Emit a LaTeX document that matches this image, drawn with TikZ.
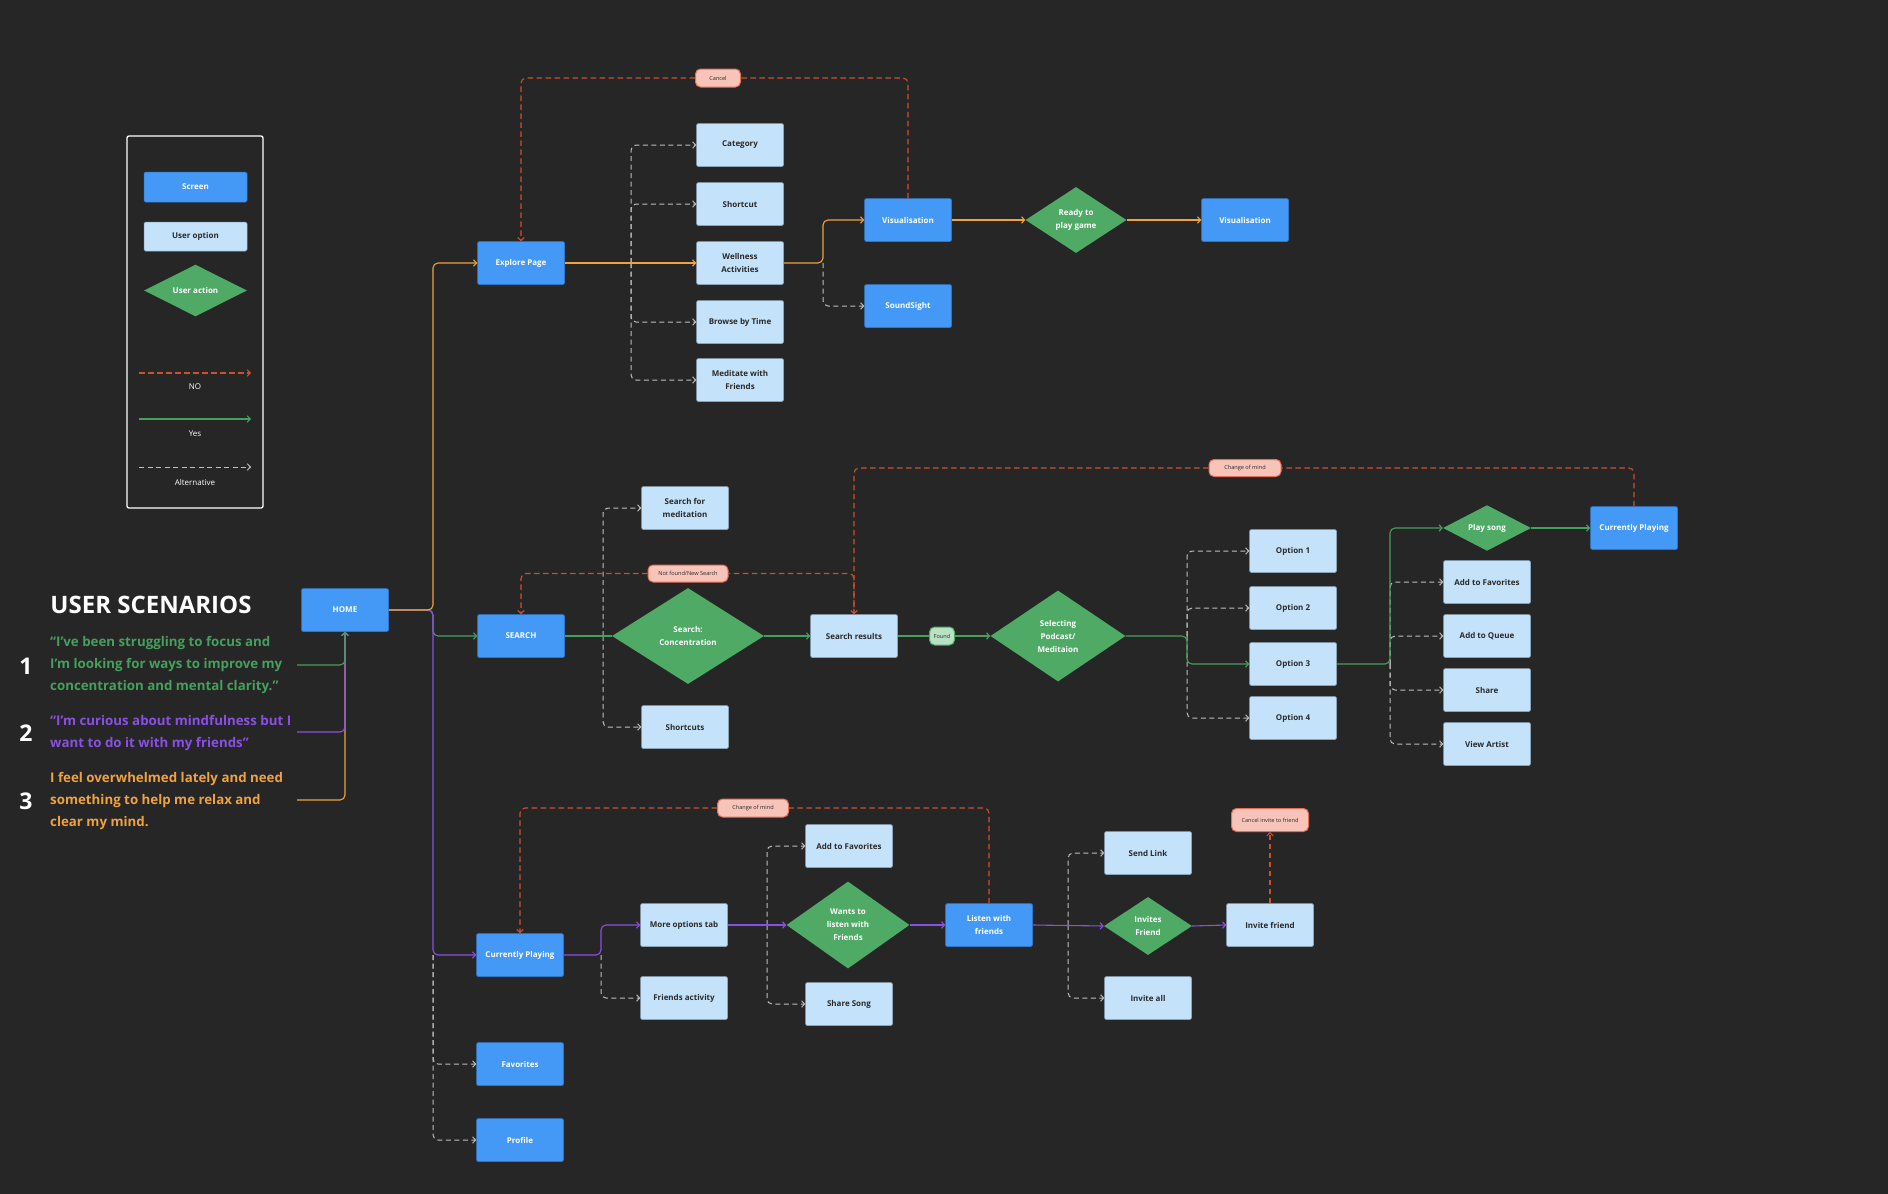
\documentclass[tikz,border=0pt]{standalone}
\usepackage{fontspec}
\setmainfont{Open Sans}
\usetikzlibrary{arrows.meta,shapes.geometric}
\definecolor{bg}{HTML}{262626}
\definecolor{scr}{HTML}{4499F6}
\definecolor{scrb}{HTML}{2F78D0}
\definecolor{opt}{HTML}{C4E2FA}
\definecolor{optb}{HTML}{8FA6BA}
\definecolor{act}{HTML}{4EAA65}
\definecolor{cno}{HTML}{CF4E30}
\definecolor{cyes}{HTML}{45A05D}
\definecolor{corg}{HTML}{F0A23E}
\definecolor{cpur}{HTML}{8A4FE6}
\definecolor{calt}{HTML}{BDBDBD}
\definecolor{pill}{HTML}{F8C4B9}
\definecolor{pillb}{HTML}{E56E57}
\definecolor{foundf}{HTML}{B8E2C3}
\definecolor{dark}{HTML}{2A2A2A}
\begin{document}
\begin{tikzpicture}[x=1pt,y=-1pt,
  >={Straight Barb[length=3pt,width=6.5pt]},
  screen/.style={rectangle, rounded corners=1.5pt, fill=scr, draw=scrb, line width=0.5pt,
    minimum width=87pt, minimum height=43pt, inner sep=1pt, align=center, text=white,
    font=\fontsize{8}{13}\selectfont\bfseries},
  useropt/.style={screen, fill=opt, draw=optb, text=dark},
  action/.style={diamond, fill=act, draw=none, inner sep=0pt, align=center, text=white,
    font=\fontsize{8}{13}\selectfont\bfseries},
  pilllabel/.style={rectangle, rounded corners=5pt, fill=pill, draw=pillb, line width=1pt,
    inner sep=0pt, font=\fontsize{5.6}{6}\selectfont, text=dark},
  lno/.style={cno, line width=1.1pt, dash pattern=on 5.5pt off 3.5pt, rounded corners=5pt},
  lyes/.style={cyes, line width=1.1pt, rounded corners=5pt},
  lorg/.style={corg, line width=1.1pt, rounded corners=5pt},
  lpur/.style={cpur, line width=1.1pt, rounded corners=5pt},
  lalt/.style={calt, line width=1pt, dash pattern=on 5pt off 3.5pt, rounded corners=5pt},
  legtext/.style={text=white, font=\fontsize{8}{10}\selectfont},
  scen/.style={anchor=west, align=left, inner sep=0pt, font=\fontsize{13.3}{22}\selectfont\bfseries},
  num/.style={text=white, font=\fontsize{23}{26}\selectfont\bfseries}
]
\useasboundingbox (0,0) rectangle (1888,1194);
\fill[bg] (0,0) rectangle (1888,1194);

% ---------- legend ----------
\node[draw=white, line width=1.3pt, rounded corners=2pt, minimum width=136pt, minimum height=372pt, inner sep=0pt] (legend) at (195,322) {};
\node[screen, minimum width=103pt, minimum height=30pt] (lgScreen) at (195.5,187) {Screen};
\node[useropt, minimum width=103pt, minimum height=29pt] (lgOpt) at (195.5,236.5) {User option};
\node[action, minimum width=103pt, minimum height=43pt] (lgAct) at (195.5,290.5) {User action};
\coordinate (lnoA) at (139,373); \coordinate (lnoB) at (251,373);
\coordinate (lyesA) at (139,419); \coordinate (lyesB) at (251,419);
\coordinate (laltA) at (139,467); \coordinate (laltB) at (251,467);
\draw[lno,->] (lnoA) -- (lnoB);
\draw[lyes,->] (lyesA) -- (lyesB);
\draw[lalt,->] (laltA) -- (laltB);
\node[legtext] (lgNo) at (195,387) {NO};
\node[legtext] (lgYes) at (195,434) {Yes};
\node[legtext] (lgAlt) at (195,482) {Alternative};

% ---------- user scenarios ----------
\node[text=white, font=\fontsize{24}{26}\selectfont\bfseries, inner sep=0pt] (title) at (151,605) {USER SCENARIOS};
\node[num] (n1) at (26,666) {1};
\node[num] (n2) at (26,733) {2};
\node[num] (n3) at (26,801) {3};
\node[scen, text=cyes] (sc1) at (50,665) {“I've been struggling to focus and\\I'm looking for ways to improve my\\concentration and mental clarity.”};
\node[scen, text=cpur] (sc2) at (50,733) {“I'm curious about mindfulness but I\\want to do it with my friends”};
\node[scen, text=corg] (sc3) at (50,801) {I feel overwhelmed lately and need\\something to help me relax and\\clear my mind.};
\coordinate (s1) at (297,665);
\coordinate (s2) at (297,732);
\coordinate (s3) at (297,800);

% ---------- nodes ----------
\node[screen] (HOME) at (345,610) {HOME};
\node[screen] (Explore) at (521,263) {Explore Page};
\node[useropt] (Category) at (740,145) {Category};
\node[useropt] (Shortcut) at (740,204) {Shortcut};
\node[useropt] (Wellness) at (740,263) {Wellness\\Activities};
\node[useropt] (Browse) at (740,322) {Browse by Time};
\node[useropt] (Meditate) at (740,380) {Meditate with\\Friends};
\node[screen] (Vis1) at (908,220) {Visualisation};
\node[screen] (Sound) at (908,306) {SoundSight};
\node[action, minimum width=101pt, minimum height=66pt] (Ready) at (1076,220) {Ready to\\play game};
\node[screen] (Vis2) at (1245,220) {Visualisation};

\node[screen] (SEARCH) at (521,636) {SEARCH};
\node[useropt] (SfM) at (685,508) {Search for\\meditation};
\node[useropt] (Shortcuts) at (685,727) {Shortcuts};
\node[action, minimum width=152pt, minimum height=96pt] (Conc) at (688,636) {Search:\\Concentration};
\node[useropt] (SR) at (854,636) {Search results};
\node[action, minimum width=135pt, minimum height=91pt] (Sel) at (1058,636) {Selecting\\Podcast/\\Meditaion};
\node[useropt] (Opt1) at (1293,551) {Option 1};
\node[useropt] (Opt2) at (1293,608) {Option 2};
\node[useropt] (Opt3) at (1293,664) {Option 3};
\node[useropt] (Opt4) at (1293,718) {Option 4};
\node[action, minimum width=88pt, minimum height=43pt] (Play) at (1487,528) {Play song};
\node[useropt] (AddFav) at (1487,582) {Add to Favorites};
\node[useropt] (AddQ) at (1487,636) {Add to Queue};
\node[useropt] (Share) at (1487,690) {Share};
\node[useropt] (ViewA) at (1487,744) {View Artist};
\node[screen] (CPR) at (1634,528) {Currently Playing};

\node[screen] (CP) at (520,955) {Currently Playing};
\node[useropt] (More) at (684,925) {More options tab};
\node[useropt] (FA) at (684,998) {Friends activity};
\node[action, minimum width=123pt, minimum height=87pt] (Wants) at (848,925) {Wants to\\listen with\\Friends};
\node[useropt] (AddFav2) at (849,846) {Add to Favorites};
\node[useropt] (ShareSong) at (849,1004) {Share Song};
\node[screen] (Listen) at (989,925) {Listen with\\friends};
\node[useropt] (SendLink) at (1148,853) {Send Link};
\node[action, minimum width=88pt, minimum height=58pt] (Invites) at (1148,926) {Invites\\Friend};
\node[useropt] (InviteAll) at (1148,998) {Invite all};
\node[useropt] (IF) at (1270,925) {Invite friend};
\node[screen] (Fav) at (520,1064) {Favorites};
\node[screen] (Profile) at (520,1140) {Profile};

% labels (pills)
\node[pilllabel, minimum width=45pt, minimum height=18pt] (Cancel) at (718,78) {Cancel};
\node[pilllabel, minimum width=80pt, minimum height=17pt] (NF) at (688,573.5) {Not found/New Search};
\node[pilllabel, minimum width=72pt, minimum height=17pt] (CoM1) at (1245,468) {Change of mind};
\node[pilllabel, minimum width=71pt, minimum height=18pt] (CoM2) at (753,808) {Change of mind};
\node[pilllabel, minimum width=77pt, minimum height=23pt] (CIF) at (1270,820) {Cancel invite to friend};
\node[pilllabel, fill=foundf, draw=act, minimum width=25pt, minimum height=18pt] (Found) at (942,636) {Found};

% junction coordinates
\coordinate (jH) at (433,610);
\coordinate (jf) at (433,955);
\coordinate (ja) at (631,263);
\coordinate (jw) at (823,263);
\coordinate (js) at (603,636);
\coordinate (jo) at (1187,636);
\coordinate (jp) at (1390,664);
\coordinate (jc) at (601,955);
\coordinate (jm) at (767,925);
\coordinate (ji) at (1068,925);

% ---------- connectors ----------
% scenarios to HOME
\draw[lorg,->] (s3) -| (HOME.south);
\draw[lpur,->] (s2) -| (HOME.south);
\draw[lyes,->] (s1) -| (HOME.south);

% HOME branches
\draw[lalt,->] (jf) |- (Fav.west);
\draw[lalt,->] (jf) |- (Profile.west);
\draw[lyes,->] (HOME.east) -- (jH) |- (SEARCH.west);
\draw[lpur,->] (HOME.east) -- (jH) |- (CP.west);
\draw[lorg,->] (HOME.east) -- (jH) |- (Explore.west);

% explore
\draw[lalt,->] (ja) |- (Category.west);
\draw[lalt,->] (ja) |- (Shortcut.west);
\draw[lalt,->] (ja) |- (Browse.west);
\draw[lalt,->] (ja) |- (Meditate.west);
\draw[lorg,->] (Explore.east) -- (Wellness.west);
\draw[lalt,->] (jw) |- (Sound.west);
\draw[lorg,->] (Wellness.east) -- (jw) |- (Vis1.west);
\draw[lorg,->] (Vis1.east) -- (Ready.west);
\draw[lorg,->] (Ready.east) -- (Vis2.west);
\draw[lno] (Vis1.north) |- (Cancel.east);
\draw[lno,->] (Cancel.west) -| (Explore.north);

% search
\draw[lalt,->] (js) |- (SfM.west);
\draw[lalt,->] (js) |- (Shortcuts.west);
\draw[lyes] (SEARCH.east) -- (Conc.west);
\draw[lyes,->] (Conc.east) -- (SR.west);
\draw[lyes] (SR.east) -- (Found.west);
\draw[lyes,->] (Found.east) -- (Sel.west);
\draw[lno] (SR.north) |- (NF.east);
\draw[lno,->] (NF.west) -| (SEARCH.north);
\draw[lno] (CPR.north) |- (CoM1.east);
\draw[lno,->] (CoM1.west) -| (SR.north);

\draw[lalt,->] (jo) |- (Opt1.west);
\draw[lalt,->] (jo) |- (Opt2.west);
\draw[lalt,->] (jo) |- (Opt4.west);
\draw[lyes,->] (Sel.east) -- (jo) |- (Opt3.west);
\draw[lalt,->] (jp) |- (AddFav.west);
\draw[lalt,->] (jp) |- (AddQ.west);
\draw[lalt,->] (jp) |- (Share.west);
\draw[lalt,->] (jp) |- (ViewA.west);
\draw[lyes,->] (Opt3.east) -- (jp) |- (Play.west);
\draw[lyes,->] (Play.east) -- (CPR.west);

% currently playing
\draw[lalt,->] (jc) |- (FA.west);
\draw[lpur,->] (CP.east) -- (jc) |- (More.west);
\draw[lalt,->] (jm) |- (AddFav2.west);
\draw[lalt,->] (jm) |- (ShareSong.west);
\draw[lpur,->] (More.east) -- (Wants.west);
\draw[lpur,->] (Wants.east) -- (Listen.west);
\draw[lalt,->] (ji) |- (SendLink.west);
\draw[lalt,->] (ji) |- (InviteAll.west);
\draw[lpur,->] (Listen.east) -- (Invites.west);
\draw[lpur,->] (Invites.east) -- (IF.west);
\draw[lno] (Listen.north) |- (CoM2.east);
\draw[lno,->] (CoM2.west) -| (CP.north);
\draw[lno,->] (IF.north) -- (CIF.south);
\end{tikzpicture}
\end{document}
